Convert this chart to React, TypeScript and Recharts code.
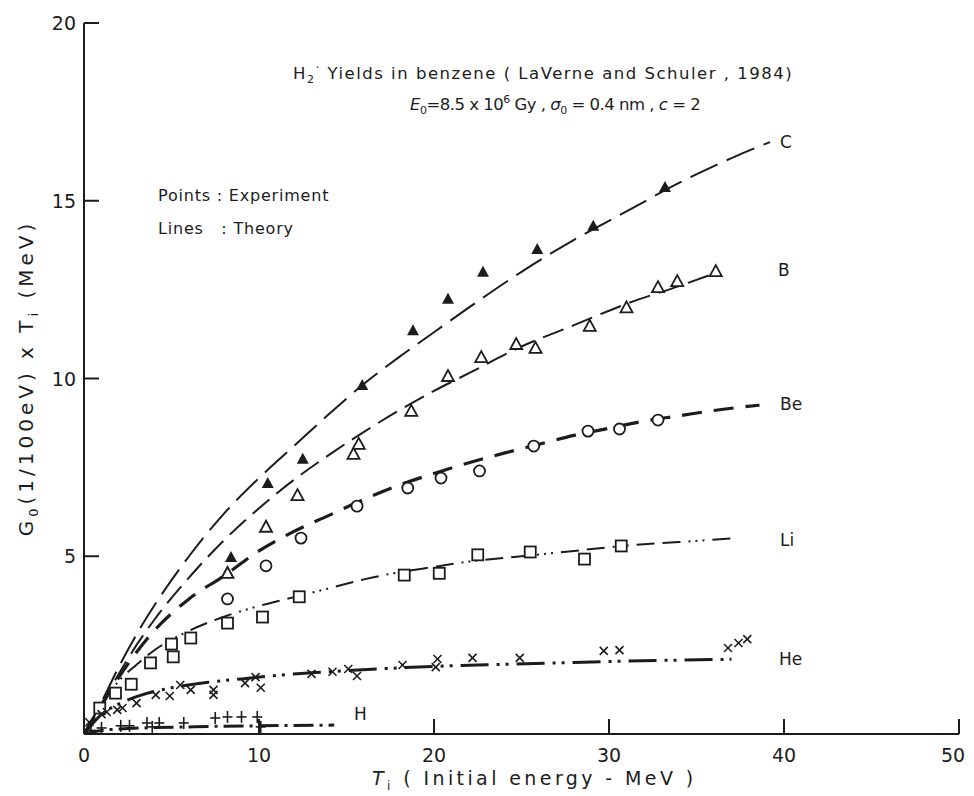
import React from "react";
import { ComposedChart, Line, Scatter, XAxis, YAxis } from "recharts";

// experimental points [T_i (MeV), G0 x T_i]
const cPoints = [[8.4, 4.98], [10.5, 7.06], [12.5, 7.74], [15.9, 9.82], [18.8, 11.36], [20.8, 12.24], [22.8, 13.0], [25.9, 13.64], [29.1, 14.3], [33.2, 15.39]];
const bPoints = [[8.2, 4.53], [10.4, 5.83], [12.2, 6.72], [15.4, 7.88], [15.7, 8.16], [18.7, 9.09], [20.8, 10.07], [22.7, 10.6], [24.7, 10.97], [25.8, 10.86], [28.9, 11.48], [31.0, 12.0], [32.8, 12.57], [33.9, 12.74], [36.1, 13.02]];
const bePoints = [[8.2, 3.8], [10.4, 4.73], [12.4, 5.51], [15.6, 6.41], [18.5, 6.92], [20.4, 7.2], [22.6, 7.4], [25.7, 8.1], [28.8, 8.52], [30.6, 8.58], [32.8, 8.83]];
const liPoints = [[0.9, 0.73], [1.8, 1.15], [2.7, 1.4], [3.8, 2.0], [5.1, 2.17], [5.0, 2.53], [6.1, 2.7], [8.2, 3.12], [10.2, 3.29], [12.3, 3.86], [18.3, 4.47], [20.3, 4.52], [22.5, 5.04], [25.5, 5.12], [28.6, 4.92], [30.7, 5.29]];
const hePoints = [[0.3, 0.33], [1.0, 0.56], [1.3, 0.62], [1.9, 0.68], [2.2, 0.73], [3.0, 0.87], [4.1, 1.1], [4.9, 1.07], [5.5, 1.38], [6.1, 1.24], [7.4, 1.24], [7.4, 1.1], [9.2, 1.43], [9.8, 1.6], [10.1, 1.3], [13.0, 1.69], [14.2, 1.75], [15.1, 1.83], [15.6, 1.63], [18.2, 1.94], [20.1, 1.88], [20.2, 2.11], [22.2, 2.14], [24.9, 2.14], [29.7, 2.34], [30.6, 2.36], [36.8, 2.42], [37.4, 2.56], [37.9, 2.67]];
const hPoints = [[0.4, 0.1], [1.0, 0.17], [2.1, 0.23], [2.6, 0.23], [3.6, 0.31], [3.9, 0.2], [4.3, 0.31], [5.7, 0.31], [7.5, 0.45], [8.2, 0.48], [9.0, 0.48], [9.9, 0.48], [10.1, 0.2]];

// theory curves
const cTheory = [[0, 0], [1, 0.9], [2, 1.9], [3, 2.8], [4, 3.6], [6, 5.0], [8, 6.2], [10, 7.2], [12, 8.1], [14, 9.0], [16, 9.85], [18, 10.6], [20, 11.3], [22, 12.0], [25, 13.0], [28, 13.9], [31, 14.7], [34, 15.5], [37, 16.2], [39.2, 16.65]];
const bTheory = [[0, 0], [1, 0.85], [2, 1.7], [3, 2.5], [4, 3.2], [6, 4.4], [8, 5.45], [10, 6.35], [12, 7.15], [14, 7.85], [16, 8.5], [18, 9.1], [20, 9.65], [22, 10.15], [25, 10.9], [28, 11.5], [31, 12.1], [34, 12.6], [36, 12.95]];
const beTheory = [[0, 0], [1, 0.8], [2, 1.6], [3, 2.3], [4, 2.9], [6, 3.8], [8, 4.45], [10, 5.15], [12, 5.7], [14, 6.15], [16, 6.6], [18, 7.0], [20, 7.33], [22, 7.63], [24, 7.9], [26, 8.15], [28, 8.4], [30, 8.6], [32, 8.8], [34, 8.95], [36, 9.1], [38.6, 9.25]];
const liTheory = [[0, 0], [1, 0.85], [2, 1.5], [3, 1.95], [4, 2.35], [6, 2.9], [8, 3.3], [10, 3.6], [12, 3.85], [14, 4.1], [16, 4.35], [18, 4.55], [20, 4.7], [22, 4.85], [25, 5.0], [28, 5.15], [31, 5.3], [34, 5.4], [37, 5.5]];
const heTheory = [[0, 0], [1, 0.55], [2, 0.85], [3, 1.05], [5, 1.3], [7, 1.45], [9, 1.55], [11, 1.65], [13, 1.72], [15, 1.78], [18, 1.86], [21, 1.92], [24, 1.96], [27, 2.0], [30, 2.04], [33, 2.07], [37, 2.1]];
const hTheory = [[0, 0], [1, 0.1], [2, 0.14], [4, 0.18], [6, 0.2], [8, 0.22], [10, 0.23], [12, 0.24], [14.3, 0.25]];

const xTicks = [0, 10, 20, 30, 40, 50];
const yTicks = [0, 5, 10, 15, 20];

const toXY = (arr: number[][]) => arr.map(([x, y]) => ({ x, y }));

const INK = "#1c1c1c";
const FONT = "'DejaVu Sans', sans-serif";

const FilledTri = (p: any) => (
  <polygon points={`${p.cx},${p.cy - 6} ${p.cx - 6},${p.cy + 5} ${p.cx + 6},${p.cy + 5}`} fill={INK} />
);
const OpenTri = (p: any) => (
  <polygon points={`${p.cx},${p.cy - 6} ${p.cx - 6},${p.cy + 5} ${p.cx + 6},${p.cy + 5}`} fill="#fff" stroke={INK} strokeWidth={1.8} />
);
const OpenCircle = (p: any) => <circle cx={p.cx} cy={p.cy} r={5.5} fill="#fff" stroke={INK} strokeWidth={1.8} />;
const OpenSquare = (p: any) => (
  <rect x={p.cx - 5.5} y={p.cy - 5.5} width={11} height={11} fill="#fff" stroke={INK} strokeWidth={1.8} />
);
const XMark = (p: any) => (
  <g stroke={INK} strokeWidth={1.6}>
    <line x1={p.cx - 4} y1={p.cy - 4} x2={p.cx + 4} y2={p.cy + 4} />
    <line x1={p.cx - 4} y1={p.cy + 4} x2={p.cx + 4} y2={p.cy - 4} />
  </g>
);
const PlusMark = (p: any) => (
  <g stroke={INK} strokeWidth={1.6}>
    <line x1={p.cx - 5} y1={p.cy} x2={p.cx + 5} y2={p.cy} />
    <line x1={p.cx} y1={p.cy - 6} x2={p.cx} y2={p.cy + 6} />
  </g>
);

const XTick = (p: any) => {
  const v = p.payload.value;
  // last label nudged left so it stays inside the page
  const tx = v === 50 ? p.x - 6 : p.x;
  return (
    <g>
      {v !== 0 && <line x1={p.x} y1={p.y} x2={p.x} y2={p.y - 15} stroke={INK} strokeWidth={2} />}
      <text x={tx} y={p.y + 28} textAnchor="middle" fontSize={19} fontFamily={FONT} fill={INK}>
        {v}
      </text>
    </g>
  );
};

const YTick = (p: any) => {
  const v = p.payload.value;
  if (v === 0) return <g />;
  return (
    <g>
      <line x1={p.x} y1={p.y} x2={p.x + 15} y2={p.y} stroke={INK} strokeWidth={2} />
      <text x={p.x - 8} y={p.y + 7} textAnchor="end" fontSize={19} fontFamily={FONT} fill={INK}>
        {v}
      </text>
    </g>
  );
};

const txt = (left: number, top: number, size = 16): React.CSSProperties => ({
  position: "absolute",
  left,
  top,
  fontSize: size,
  fontFamily: FONT,
  color: INK,
  whiteSpace: "nowrap",
  lineHeight: 1,
});

export default function App() {
  return (
    <div style={{ position: "relative", width: 958, height: 786 }}>
      <ComposedChart width={966} height={770} margin={{ top: 15, right: 15, left: 16, bottom: 4 }}>
        <XAxis
          type="number"
          dataKey="x"
          domain={[0, 50]}
          ticks={xTicks}
          height={40}
          tickLine={false}
          tickSize={0}
          tickMargin={0}
          tick={<XTick />}
          axisLine={{ stroke: INK, strokeWidth: 2 }}
          allowDataOverflow
        />
        <YAxis
          type="number"
          dataKey="y"
          domain={[0, 20]}
          ticks={yTicks}
          width={60}
          tickLine={false}
          tickSize={0}
          tickMargin={0}
          tick={<YTick />}
          axisLine={{ stroke: INK, strokeWidth: 2 }}
          allowDataOverflow
        />
        <Line data={toXY(cTheory)} dataKey="y" type="monotone" stroke={INK} strokeWidth={2} strokeDasharray="30 10" dot={false} isAnimationActive={false} />
        <Line data={toXY(bTheory)} dataKey="y" type="monotone" stroke={INK} strokeWidth={2} strokeDasharray="22 9" dot={false} isAnimationActive={false} />
        <Line data={toXY(beTheory)} dataKey="y" type="monotone" stroke={INK} strokeWidth={3.2} strokeDasharray="20 12" dot={false} isAnimationActive={false} />
        <Line data={toXY(liTheory)} dataKey="y" type="monotone" stroke={INK} strokeWidth={2} strokeDasharray="18 8 18 8 2 5 2 5 2 8" dot={false} isAnimationActive={false} />
        <Line data={toXY(heTheory)} dataKey="y" type="monotone" stroke={INK} strokeWidth={3} strokeDasharray="28 8 3 6 3 8" dot={false} isAnimationActive={false} />
        <Line data={toXY(hTheory)} dataKey="y" type="monotone" stroke={INK} strokeWidth={3} strokeDasharray="20 6 3 6" dot={false} isAnimationActive={false} />
        <Scatter data={toXY(cPoints)} shape={<FilledTri />} isAnimationActive={false} />
        <Scatter data={toXY(bPoints)} shape={<OpenTri />} isAnimationActive={false} />
        <Scatter data={toXY(bePoints)} shape={<OpenCircle />} isAnimationActive={false} />
        <Scatter data={toXY(liPoints)} shape={<OpenSquare />} isAnimationActive={false} />
        <Scatter data={toXY(hePoints)} shape={<XMark />} isAnimationActive={false} />
        <Scatter data={toXY(hPoints)} shape={<PlusMark />} isAnimationActive={false} />
      </ComposedChart>

      <div style={{ ...txt(285, 54, 16.5), letterSpacing: 1.5 }}>
        H<sub style={{ fontSize: 11 }}>2</sub><sup style={{ fontSize: 12 }}>·</sup> Yields in benzene ( LaVerne and Schuler , 1984)
      </div>
      <div style={{ ...txt(402, 86, 16.5), letterSpacing: -0.5 }}>
        <i>E</i><sub style={{ fontSize: 11 }}>0</sub>=8.5 x 10<sup style={{ fontSize: 11 }}>6</sup> Gy , <i>σ</i><sub style={{ fontSize: 11 }}>0</sub> = 0.4 nm , <i>c</i> = 2
      </div>
      <div style={{ ...txt(150, 180, 16), letterSpacing: 0.8 }}>Points : Experiment</div>
      <div style={{ ...txt(150, 213, 16), letterSpacing: 0.8 }}>Lines&nbsp;&nbsp; : Theory</div>

      <div style={txt(772, 126, 17)}>C</div>
      <div style={txt(770, 254, 17)}>B</div>
      <div style={txt(772, 388, 17)}>Be</div>
      <div style={txt(772, 524, 17)}>Li</div>
      <div style={txt(771, 643, 17)}>He</div>
      <div style={txt(346, 698, 17)}>H</div>

      <div style={{ ...txt(364, 761, 19), letterSpacing: 3.4 }}>
        <i>T</i><sub style={{ fontSize: 12 }}>i</sub> ( Initial energy - MeV )
      </div>
      <div
        style={{
          ...txt(20, 370, 20),
          transform: "translate(-50%, -50%) rotate(-90deg)",
          letterSpacing: 4,
        }}
      >
        G<sub style={{ fontSize: 13 }}>0</sub>(1/100eV) x T<sub style={{ fontSize: 13 }}>i</sub> (MeV)
      </div>
    </div>
  );
}
